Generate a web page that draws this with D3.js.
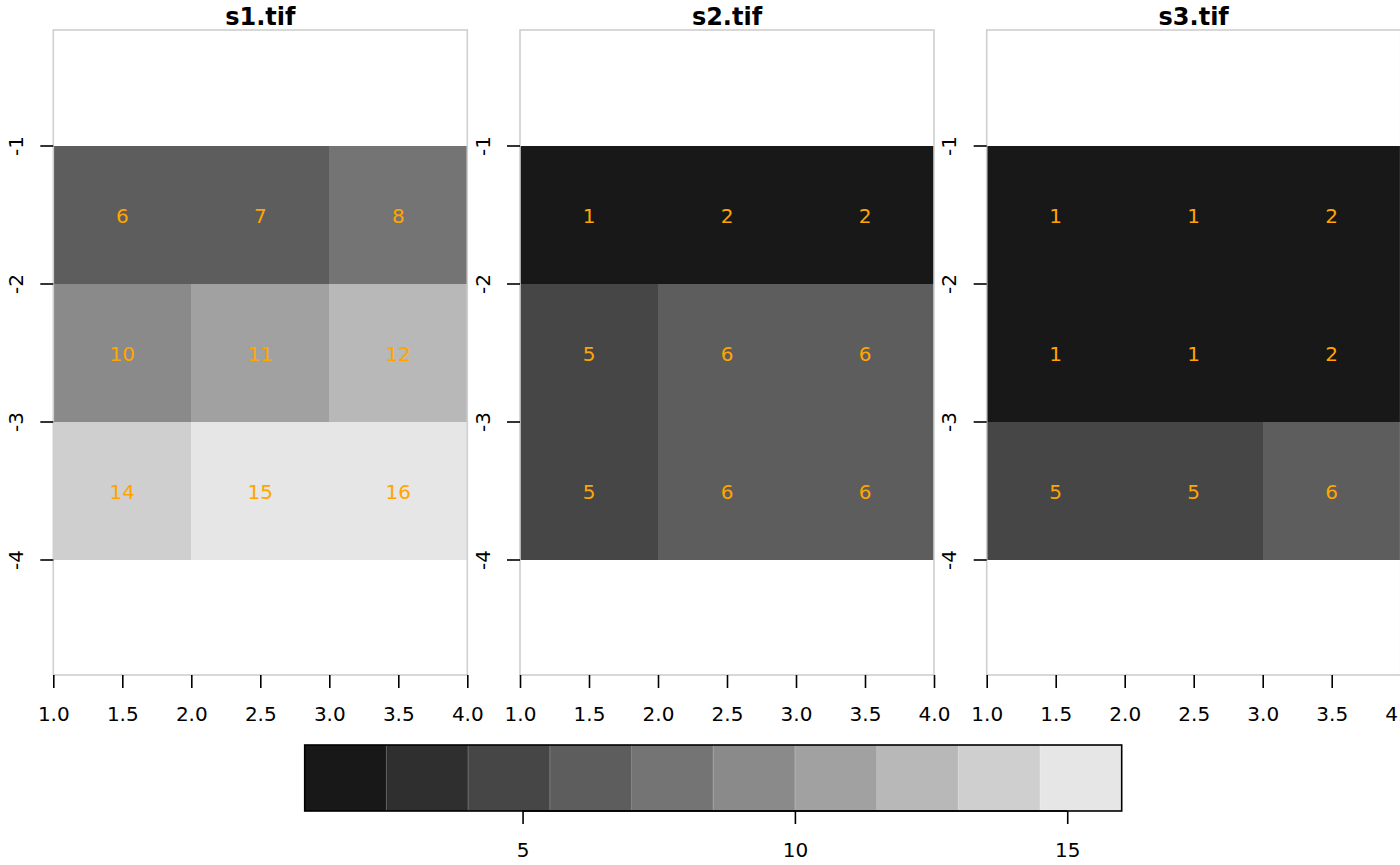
<!DOCTYPE html>
<html><head><meta charset="utf-8">
<script src="https://cdn.jsdelivr.net/npm/d3@7"></script>
<style>body{margin:0;background:#fff}text{font-family:"DejaVu Sans",sans-serif}</style>
</head><body><svg id="c" width="1400" height="865"></svg>
<script>
const panelTitles = ["s1.tif", "s2.tif", "s3.tif"];
const s1 = [[6,7,8],[10,11,12],[14,15,16]];
const s2 = [[1,2,2],[5,6,6],[5,6,6]];
const s3 = [[1,1,2],[1,1,2],[5,5,6]];
const layers = [s1, s2, s3];
const xTicks = [1.0,1.5,2.0,2.5,3.0,3.5,4.0];
const yTicks = [-1,-2,-3,-4];
const breaks = [1,2.5,4,5.5,7,8.5,10,11.5,13,14.5,16];
const legendTicks = [5,10,15];
const palette = ["#181818","#2f2f2f","#464646","#5d5d5d","#747474","#8a8a8a","#a1a1a1","#b8b8b8","#cfcfcf","#e6e6e6"];

const svg = d3.select("#c");
const panelLefts = [53.3, 520, 986.7];
const unit = 138;
const plotTop = 30, plotBottom = 675;
const FS = "20px";

function colorOf(v){
  for(let i=0;i<palette.length;i++){ if(v<=breaks[i+1]) return palette[i]; }
  return palette[palette.length-1];
}

layers.forEach((grid, p) => {
  const L = panelLefts[p];
  const x = d3.scaleLinear().domain([1,4]).range([L, L+3*unit]);
  const midY = (plotTop+plotBottom)/2;
  const y = d3.scaleLinear().domain([-2.5-1, -2.5+1]).range([midY+unit, midY-unit]);
  const g = svg.append("g");
  grid.forEach((row, r) => row.forEach((v, c) => {
    const x0 = 1 + c, y1 = -1 - r;
    g.append("rect").attr("x", x(x0)).attr("y", y(y1))
      .attr("width", x(x0+1)-x(x0)).attr("height", y(y1-1)-y(y1))
      .attr("fill", colorOf(v)).attr("shape-rendering","crispEdges");
    g.append("text").attr("x", x(x0+0.5)).attr("y", y(y1-0.5)).attr("dy","0.41em")
      .attr("text-anchor","middle").attr("fill","#FFA500").style("font-size",FS).text(v);
  }));
  g.append("rect").attr("x", L).attr("y", plotTop).attr("width", 3*unit).attr("height", plotBottom-plotTop)
    .attr("fill","none").attr("stroke","#cfcfcf").attr("stroke-width",1.6);
  const xa = g.append("g").attr("transform",`translate(0,${plotBottom})`)
    .call(d3.axisBottom(x).tickValues(xTicks).tickFormat(d3.format(".1f")).tickSize(13));
  xa.select(".domain").remove();
  xa.selectAll("line").attr("stroke","#000").attr("stroke-width",1.6);
  xa.selectAll("text").attr("y",45.7).attr("dy",null).style("font-size",FS).attr("fill","#000").attr("font-family","DejaVu Sans");
  const ya = g.append("g").attr("transform",`translate(${L},0)`)
    .call(d3.axisLeft(y).tickValues(yTicks).tickFormat(d => String(d)).tickSize(13));
  ya.select(".domain").remove();
  ya.selectAll("line").attr("stroke","#000").attr("stroke-width",1.6);
  ya.selectAll("text").remove();
  ya.selectAll(".tick").append("text")
    .attr("transform","translate(-30.5,0) rotate(-90)")
    .attr("text-anchor","middle").attr("fill","#000")
    .attr("font-family","DejaVu Sans")
    .style("font-size",FS).text(d => String(d));
  g.append("text").attr("x", L+1.5*unit).attr("y", 25).attr("text-anchor","middle")
    .style("font-size","24px").style("font-weight","bold").text(panelTitles[p]);
});

const lx = d3.scaleLinear().domain([1,16]).range([304.7, 1121.7]);
const ly0 = 745, ly1 = 811;
const lg = svg.append("g");
palette.forEach((col, i) => {
  lg.append("rect").attr("x", lx(breaks[i])).attr("y", ly0)
    .attr("width", lx(breaks[i+1])-lx(breaks[i])).attr("height", ly1-ly0)
    .attr("fill", col).attr("shape-rendering","crispEdges");
});
palette.slice(1).forEach((col, i) => {
  lg.append("line").attr("x1", lx(breaks[i+1])).attr("x2", lx(breaks[i+1]))
    .attr("y1", ly0).attr("y2", ly1).attr("stroke","#fff").attr("stroke-opacity",0.25).attr("stroke-width",1);
});
lg.append("rect").attr("x", lx(1)).attr("y", ly0).attr("width", lx(16)-lx(1)).attr("height", ly1-ly0)
  .attr("fill","none").attr("stroke","#000").attr("stroke-width",1.6);
const la = lg.append("g").attr("transform",`translate(0,${ly1})`)
  .call(d3.axisBottom(lx).tickValues(legendTicks).tickSize(13));
la.select(".domain").remove();
la.selectAll("line").attr("stroke","#000").attr("stroke-width",1.6);
la.selectAll("text").attr("y",45.7).attr("dy",null).style("font-size",FS).attr("fill","#000").attr("font-family","DejaVu Sans");
lg.append("line").attr("x1", lx(legendTicks[0])).attr("x2", lx(legendTicks[legendTicks.length-1]))
  .attr("y1", ly1).attr("y2", ly1).attr("stroke","#000").attr("stroke-width",1.6);
</script></body></html>
